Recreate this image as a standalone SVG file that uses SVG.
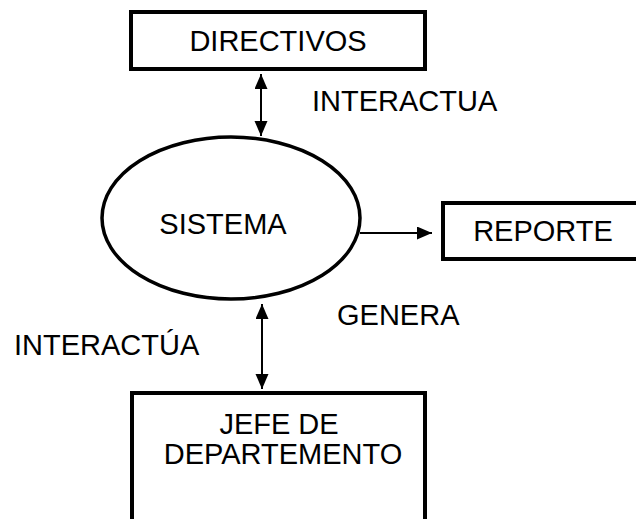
<svg xmlns="http://www.w3.org/2000/svg" width="636" height="519" viewBox="0 0 636 519">
<style>
.box{fill:#fff;stroke:#000;stroke-width:4}
.ell{fill:#fff;stroke:#000;stroke-width:3.5}
.lbl{font-family:"Liberation Sans",Arial,sans-serif;font-size:29px;fill:#000}
.c{text-anchor:middle}
.con{stroke:#000;stroke-width:2;fill:none}
</style>
<defs>
<marker id="ah" markerUnits="userSpaceOnUse" markerWidth="16" markerHeight="14" refX="15" refY="6.5" orient="auto-start-reverse">
<path d="M0,0 L15,6.5 L0,13 Z" fill="#000"/>
</marker>
</defs>
<rect width="636" height="519" fill="#fff"/>
<g id="directivos">
<rect class="box" x="131" y="12" width="294" height="57"/>
<text class="lbl c" x="278" y="51">DIRECTIVOS</text>
</g>
<g id="sistema">
<ellipse class="ell" cx="231" cy="218" rx="129" ry="81"/>
<text class="lbl c" x="223" y="234">SISTEMA</text>
</g>
<g id="reporte">
<rect class="box" x="443" y="203" width="200" height="56"/>
<text class="lbl c" x="543" y="241">REPORTE</text>
</g>
<g id="jefe">
<rect class="box" x="132" y="393" width="293" height="132"/>
<text class="lbl c" x="279" y="434">JEFE DE</text>
<text class="lbl c" x="283" y="464">DEPARTEMENTO</text>
</g>
<g id="connectors">
<line class="con" x1="261" y1="74" x2="261" y2="136" marker-start="url(#ah)" marker-end="url(#ah)"/>
<line class="con" x1="360" y1="233" x2="432" y2="233" marker-end="url(#ah)"/>
<line class="con" x1="262" y1="304" x2="262" y2="389" marker-start="url(#ah)" marker-end="url(#ah)"/>
<text class="lbl" x="312" y="111">INTERACTUA</text>
<text class="lbl" x="337" y="325">GENERA</text>
<text class="lbl" x="14" y="355">INTERACTÚA</text>
</g>
</svg>
